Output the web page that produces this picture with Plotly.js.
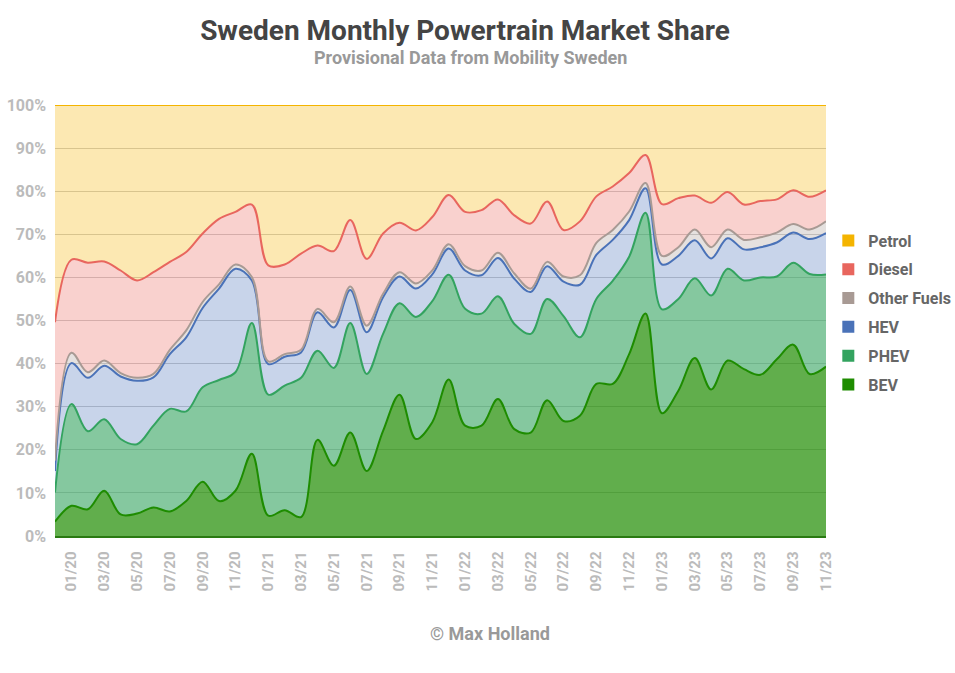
<!DOCTYPE html>
<html>
<head>
<meta charset="utf-8">
<script src="https://cdn.plot.ly/plotly-3.0.1.min.js"></script>
<style>
  html, body { margin: 0; padding: 0; background: #fff; }
  #chart { width: 955px; height: 673px; }
</style>
</head>
<body>
<div id="chart"></div>
<script>
// months 12/19 .. 11/23
var months = [
  '12/19','01/20','02/20','03/20','04/20','05/20','06/20','07/20','08/20','09/20','10/20','11/20',
  '12/20','01/21','02/21','03/21','04/21','05/21','06/21','07/21','08/21','09/21','10/21','11/21',
  '12/21','01/22','02/22','03/22','04/22','05/22','06/22','07/22','08/22','09/22','10/22','11/22',
  '12/22','01/23','02/23','03/23','04/23','05/23','06/23','07/23','08/23','09/23','10/23','11/23'
];
var tickLabels = ['01/20','03/20','05/20','07/20','09/20','11/20','01/21','03/21','05/21','07/21','09/21','11/21',
  '01/22','03/22','05/22','07/22','09/22','11/22','01/23','03/23','05/23','07/23','09/23','11/23'];

// market share per powertrain, %
var bev = [3.3, 7.0, 6.2, 10.5, 5.0, 5.2, 6.6, 5.7, 8.1, 12.6, 8.1, 10.5,
  19.1, 4.7, 6.0, 4.4, 22.3, 16.3, 24.0, 15.1, 24.4, 32.8, 22.5, 26.4,
  36.3, 25.6, 25.6, 31.8, 24.8, 24.0, 31.5, 26.7, 27.9, 35.3, 35.3, 42.2,
  51.6, 28.5, 33.7, 41.3, 34.0, 40.7, 38.7, 37.4, 41.0, 44.4, 37.6, 39.3];
var phev = [6.8, 23.6, 18.1, 16.6, 17.5, 16.1, 19.0, 23.8, 20.8, 21.9, 28.1, 27.5,
  30.3, 28.1, 28.9, 32.3, 20.7, 22.7, 25.4, 22.5, 22.5, 21.2, 28.3, 28.1,
  24.3, 27.1, 26.0, 23.8, 24.4, 22.9, 23.5, 24.3, 18.2, 19.7, 23.9, 22.6,
  23.4, 24.1, 21.3, 18.5, 21.8, 21.3, 20.6, 22.6, 19.2, 19.0, 23.2, 21.4];
var hev = [5.0, 9.5, 12.4, 12.4, 14.5, 14.7, 11.2, 12.7, 17.2, 18.4, 21.2, 24.0,
  9.9, 7.1, 6.7, 5.9, 8.9, 9.4, 7.7, 9.7, 8.5, 6.2, 6.6, 6.2,
  6.1, 8.9, 8.9, 8.9, 10.5, 9.7, 7.6, 8.0, 12.2, 10.2, 9.5, 8.5,
  5.7, 10.4, 10.0, 8.8, 8.6, 7.1, 7.2, 7.0, 7.9, 7.0, 8.1, 9.6];
var otherFuels = [2.4, 2.4, 1.3, 1.2, 0.8, 0.7, 0.8, 1.0, 1.6, 1.4, 1.0, 1.0,
  0.8, 0.6, 0.6, 0.6, 0.8, 1.2, 0.8, 1.5, 0.8, 1.0, 1.2, 0.9,
  1.0, 1.0, 1.1, 1.2, 1.2, 0.8, 1.0, 1.2, 2.2, 2.8, 2.3, 2.0,
  1.2, 2.0, 2.0, 2.5, 2.6, 2.0, 2.2, 2.3, 2.3, 2.0, 2.2, 2.7];
var diesel = [32.1, 21.6, 25.4, 23.0, 23.8, 22.6, 23.6, 20.4, 18.2, 15.9, 15.2, 12.2,
  16.8, 22.3, 20.8, 22.3, 14.7, 16.5, 15.4, 15.5, 14.0, 11.5, 12.3, 12.4,
  11.4, 12.6, 14.0, 12.4, 13.5, 15.1, 14.0, 10.8, 12.5, 10.8, 10.1, 8.9,
  6.5, 12.0, 11.4, 7.9, 10.3, 8.7, 8.2, 8.4, 7.7, 7.8, 7.6, 7.2];
var petrol = [50.4, 35.9, 36.6, 36.3, 38.4, 40.7, 38.8, 36.4, 34.1, 29.8, 26.4, 24.8,
  23.1, 37.2, 37.0, 34.5, 32.6, 33.9, 26.7, 35.7, 29.8, 27.3, 29.1, 26.0,
  20.9, 24.8, 24.4, 21.9, 25.6, 27.5, 22.4, 29.0, 27.0, 21.2, 18.9, 15.8,
  11.6, 23.0, 21.6, 21.0, 22.7, 20.2, 23.1, 22.3, 21.9, 19.8, 21.3, 19.8];

var series = [
  { name: 'BEV', y: bev, line: '#1e8c00', fill: 'rgba(30,140,0,0.7)' },
  { name: 'PHEV', y: phev, line: '#33a35f', fill: 'rgba(51,163,95,0.6)' },
  { name: 'HEV', y: hev, line: '#4a72b8', fill: 'rgba(74,114,184,0.3)' },
  { name: 'Other Fuels', y: otherFuels, line: '#a89a94', fill: 'rgba(168,154,148,0.3)' },
  { name: 'Diesel', y: diesel, line: '#e8665e', fill: 'rgba(234,102,94,0.3)' },
  { name: 'Petrol', y: petrol, line: '#f4b400', fill: 'rgba(244,180,0,0.3)' }
];

var traces = series.map(function (s) {
  return {
    type: 'scatter', mode: 'lines', x: months, y: s.y, name: s.name,
    stackgroup: 'one', fillcolor: s.fill,
    line: { color: s.line, width: 2, shape: 'spline', smoothing: 1 },
    showlegend: false, hoverinfo: 'skip'
  };
});

// legend entries: solid squares, petrol on top
series.slice().reverse().forEach(function (s) {
  traces.push({
    type: 'scatter', mode: 'markers', x: [null], y: [null], name: s.name,
    legendgroup: s.name,
    marker: { symbol: 'square', size: 12, color: s.line }
  });
});

var layout = {
  width: 955, height: 673,
  margin: { l: 55, r: 129, t: 105, b: 137, autoexpand: false },
  paper_bgcolor: '#fff', plot_bgcolor: '#fff',
  font: { family: 'Roboto', color: '#666' },
  title: {
    text: 'Sweden Monthly Powertrain Market Share',
    font: { family: 'Roboto', size: 28, color: '#444', weight: 'bold' },
    xref: 'container', x: 465 / 955, xanchor: 'center',
    yref: 'container', y: 1 - 30 / 673, yanchor: 'middle'
  },
  xaxis: {
    type: 'category', range: [0, 47],
    tickmode: 'array', tickvals: tickLabels, ticktext: tickLabels,
    tickangle: -90, ticks: '', ticklabelstandoff: 8,
    tickfont: { family: 'Roboto', size: 15, color: '#bbb', weight: 'bold' },
    showgrid: false, zeroline: false,
    showline: true, linecolor: '#2a7a12', linewidth: 1.5
  },
  yaxis: {
    range: [0, 100], dtick: 10, ticksuffix: '%', ticks: '', ticklabelstandoff: 8,
    tickfont: { family: 'Roboto', size: 16, color: '#bbb', weight: 'bold' },
    showgrid: true, gridcolor: '#cccccc', gridwidth: 1, zeroline: false
  },
  legend: {
    x: 1.003, xanchor: 'left', y: 0.725, yanchor: 'top',
    traceorder: 'grouped', tracegroupgap: 5,
    font: { family: 'Roboto', size: 16, color: '#666', weight: 'bold' },
    bgcolor: 'rgba(0,0,0,0)'
  },
  annotations: [
    {
      text: 'Provisional Data from Mobility Sweden',
      xref: 'paper', yref: 'paper', x: (470 - 55) / 771, y: (536 - 58) / 431,
      xanchor: 'center', yanchor: 'middle', showarrow: false,
      font: { family: 'Roboto', size: 18, color: '#999', weight: 'bold' }
    },
    {
      text: '© Max Holland',
      xref: 'paper', yref: 'paper', x: (490 - 55) / 771, y: (536 - 633) / 431,
      xanchor: 'center', yanchor: 'middle', showarrow: false,
      font: { family: 'Roboto', size: 18, color: '#999', weight: 'bold' }
    }
  ]
};

Plotly.newPlot('chart', traces, layout, { displayModeBar: false, staticPlot: true });
</script>
</body>
</html>
